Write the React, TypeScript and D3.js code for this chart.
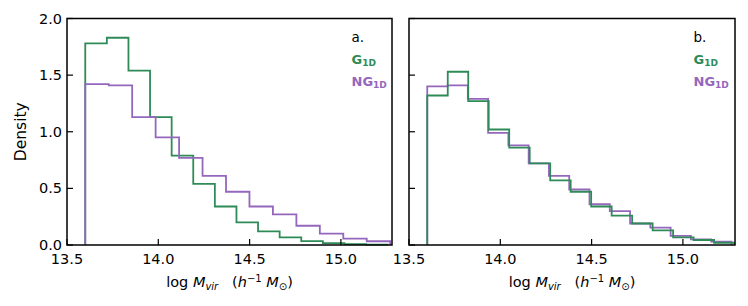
import { useEffect, useRef } from 'react';
import * as d3 from 'd3';

// histogram heights (density), one value per bin
const gA = [1.78, 1.83, 1.54, 1.13, 0.79, 0.54, 0.34, 0.2, 0.12, 0.068, 0.035, 0.016, 0.008, 0.004];
const ngA = [1.42, 1.41, 1.13, 0.95, 0.77, 0.61, 0.47, 0.34, 0.27, 0.17, 0.1, 0.056, 0.033];
const gB = [1.32, 1.53, 1.27, 1.02, 0.86, 0.72, 0.57, 0.47, 0.34, 0.26, 0.19, 0.13, 0.068, 0.044, 0.02];
const ngB = [1.4, 1.41, 1.29, 0.99, 0.88, 0.72, 0.61, 0.49, 0.36, 0.3, 0.19, 0.153, 0.08, 0.05, 0.029];

// histogram ranges [min, max] of the log mass data
const rangeGA = [13.6, 15.256];
const rangeNgA = [13.6, 15.27];
const rangeGB = [13.6, 15.283];
const rangeNgB = [13.6, 15.266];

const xTicks = [13.5, 14.0, 14.5, 15.0];
const yTicks = [0, 0.5, 1.0, 1.5, 2.0];
const xDomain = [13.5, 15.285];
const yDomain = [0, 2];

const GREEN = '#2e8b57';
const PURPLE = '#9467bd';
const FONT = 'DejaVu Sans, sans-serif';
const FS = 14.5;

export default function App() {
  const ref = useRef<SVGSVGElement | null>(null);

  useEffect(() => {
    const el = ref.current;
    if (!el) return;
    const svg = d3.select(el);
    svg.selectAll('*').remove();

    const top = 18.5, bottom = 245;
    const panels = [
      { left: 67, right: 392, label: 'a.', series: [[gA, rangeGA, GREEN], [ngA, rangeNgA, PURPLE]], yLabels: true },
      { left: 409, right: 735, label: 'b.', series: [[ngB, rangeNgB, PURPLE], [gB, rangeGB, GREEN]], yLabels: false },
    ];

    panels.forEach((p, pi) => {
      const x = d3.scaleLinear().domain(xDomain).range([p.left, p.left + (xDomain[1] - xDomain[0]) * 182.6]);
      const y = d3.scaleLinear().domain(yDomain).range([bottom, top]);
      const g = svg.append('g');

      const clipId = `clip${pi}`;
      svg.append('clipPath').attr('id', clipId)
        .append('rect').attr('x', p.left).attr('y', top - 2).attr('width', p.right - p.left).attr('height', bottom - top + 4);

      // step outlines
      p.series.forEach(([vals, range, color]: any) => {
        const n = vals.length;
        const w = (range[1] - range[0]) / n;
        const pts: [number, number][] = [[range[0], 0]];
        vals.forEach((v: number, i: number) => {
          pts.push([range[0] + i * w, v]);
          pts.push([range[0] + (i + 1) * w, v]);
        });
        pts.push([range[1], 0]);
        g.append('path')
          .attr('clip-path', `url(#${clipId})`)
          .attr('d', d3.line().x(d => x(d[0])).y(d => y(d[1]))(pts))
          .attr('fill', 'none')
          .attr('stroke', color)
          .attr('stroke-width', 1.8)
          .attr('stroke-linejoin', 'miter');
      });

      // frame
      g.append('rect')
        .attr('x', p.left).attr('y', top)
        .attr('width', p.right - p.left).attr('height', bottom - top)
        .attr('fill', 'none').attr('stroke', '#000').attr('stroke-width', 1.5);

      // ticks (inward)
      xTicks.forEach(t => {
        g.append('line').attr('x1', x(t)).attr('x2', x(t)).attr('y1', bottom).attr('y2', bottom - 6)
          .attr('stroke', '#000').attr('stroke-width', 1.2);
        g.append('text').attr('x', x(t)).attr('y', bottom + 18.5).attr('text-anchor', 'middle')
          .attr('font-family', FONT).attr('font-size', FS).attr('fill', '#000').text(t.toFixed(1));
      });
      yTicks.forEach(t => {
        g.append('line').attr('x1', p.left).attr('x2', p.left + 6).attr('y1', y(t)).attr('y2', y(t))
          .attr('stroke', '#000').attr('stroke-width', 1.2);
        if (p.yLabels) {
          g.append('text').attr('x', p.left - 5).attr('y', y(t) + 5).attr('text-anchor', 'end')
            .attr('font-family', FONT).attr('font-size', FS).attr('fill', '#000').text(t.toFixed(1));
        }
      });

      // x label
      const cx = (p.left + p.right) / 2;
      const xl = g.append('text').attr('x', cx).attr('y', 287).attr('text-anchor', 'middle')
        .attr('font-family', FONT).attr('font-size', FS).attr('fill', '#000');
      xl.append('tspan').text('log ');
      xl.append('tspan').attr('font-style', 'italic').text('M');
      xl.append('tspan').attr('font-style', 'italic').attr('font-size', 10).attr('dy', 2.5).text('vir');
      xl.append('tspan').attr('dy', -2.5).text('\u00a0\u00a0\u00a0(');
      xl.append('tspan').attr('font-style', 'italic').text('h');
      xl.append('tspan').attr('font-size', 10).attr('dy', -5.5).text('\u22121');
      xl.append('tspan').attr('dy', 5.5).text('\u00a0');
      xl.append('tspan').attr('font-style', 'italic').text('M');
      xl.append('tspan').attr('font-size', 10).attr('dy', 2.5).text('\u2299');
      xl.append('tspan').attr('dy', -2.5).text(')');

      // legend
      const lx = p.left + 284.5;
      g.append('text').attr('x', lx).attr('y', 42).attr('font-family', FONT).attr('font-size', 13.5)
        .attr('fill', '#000').text(p.label);
      [['G', GREEN, 64], ['NG', PURPLE, 86]].forEach(([name, color, ly]: any) => {
        const t = g.append('text').attr('x', lx).attr('y', ly).attr('font-family', FONT)
          .attr('font-size', 13).attr('font-weight', 'bold').attr('fill', color);
        t.append('tspan').text(name);
        t.append('tspan').attr('font-size', 9).attr('dy', 2).text('1D');
      });
    });

    // y label
    svg.append('text')
      .attr('transform', `translate(26,${(top + bottom) / 2}) rotate(-90)`)
      .attr('text-anchor', 'middle')
      .attr('font-family', FONT).attr('font-size', 15.5).attr('fill', '#000')
      .text('Density');
  }, []);

  return (
    <svg
      ref={ref}
      width={748}
      height={306}
      style={{ position: 'absolute', left: 0, top: 0, background: '#fff' }}
    />
  );
}
